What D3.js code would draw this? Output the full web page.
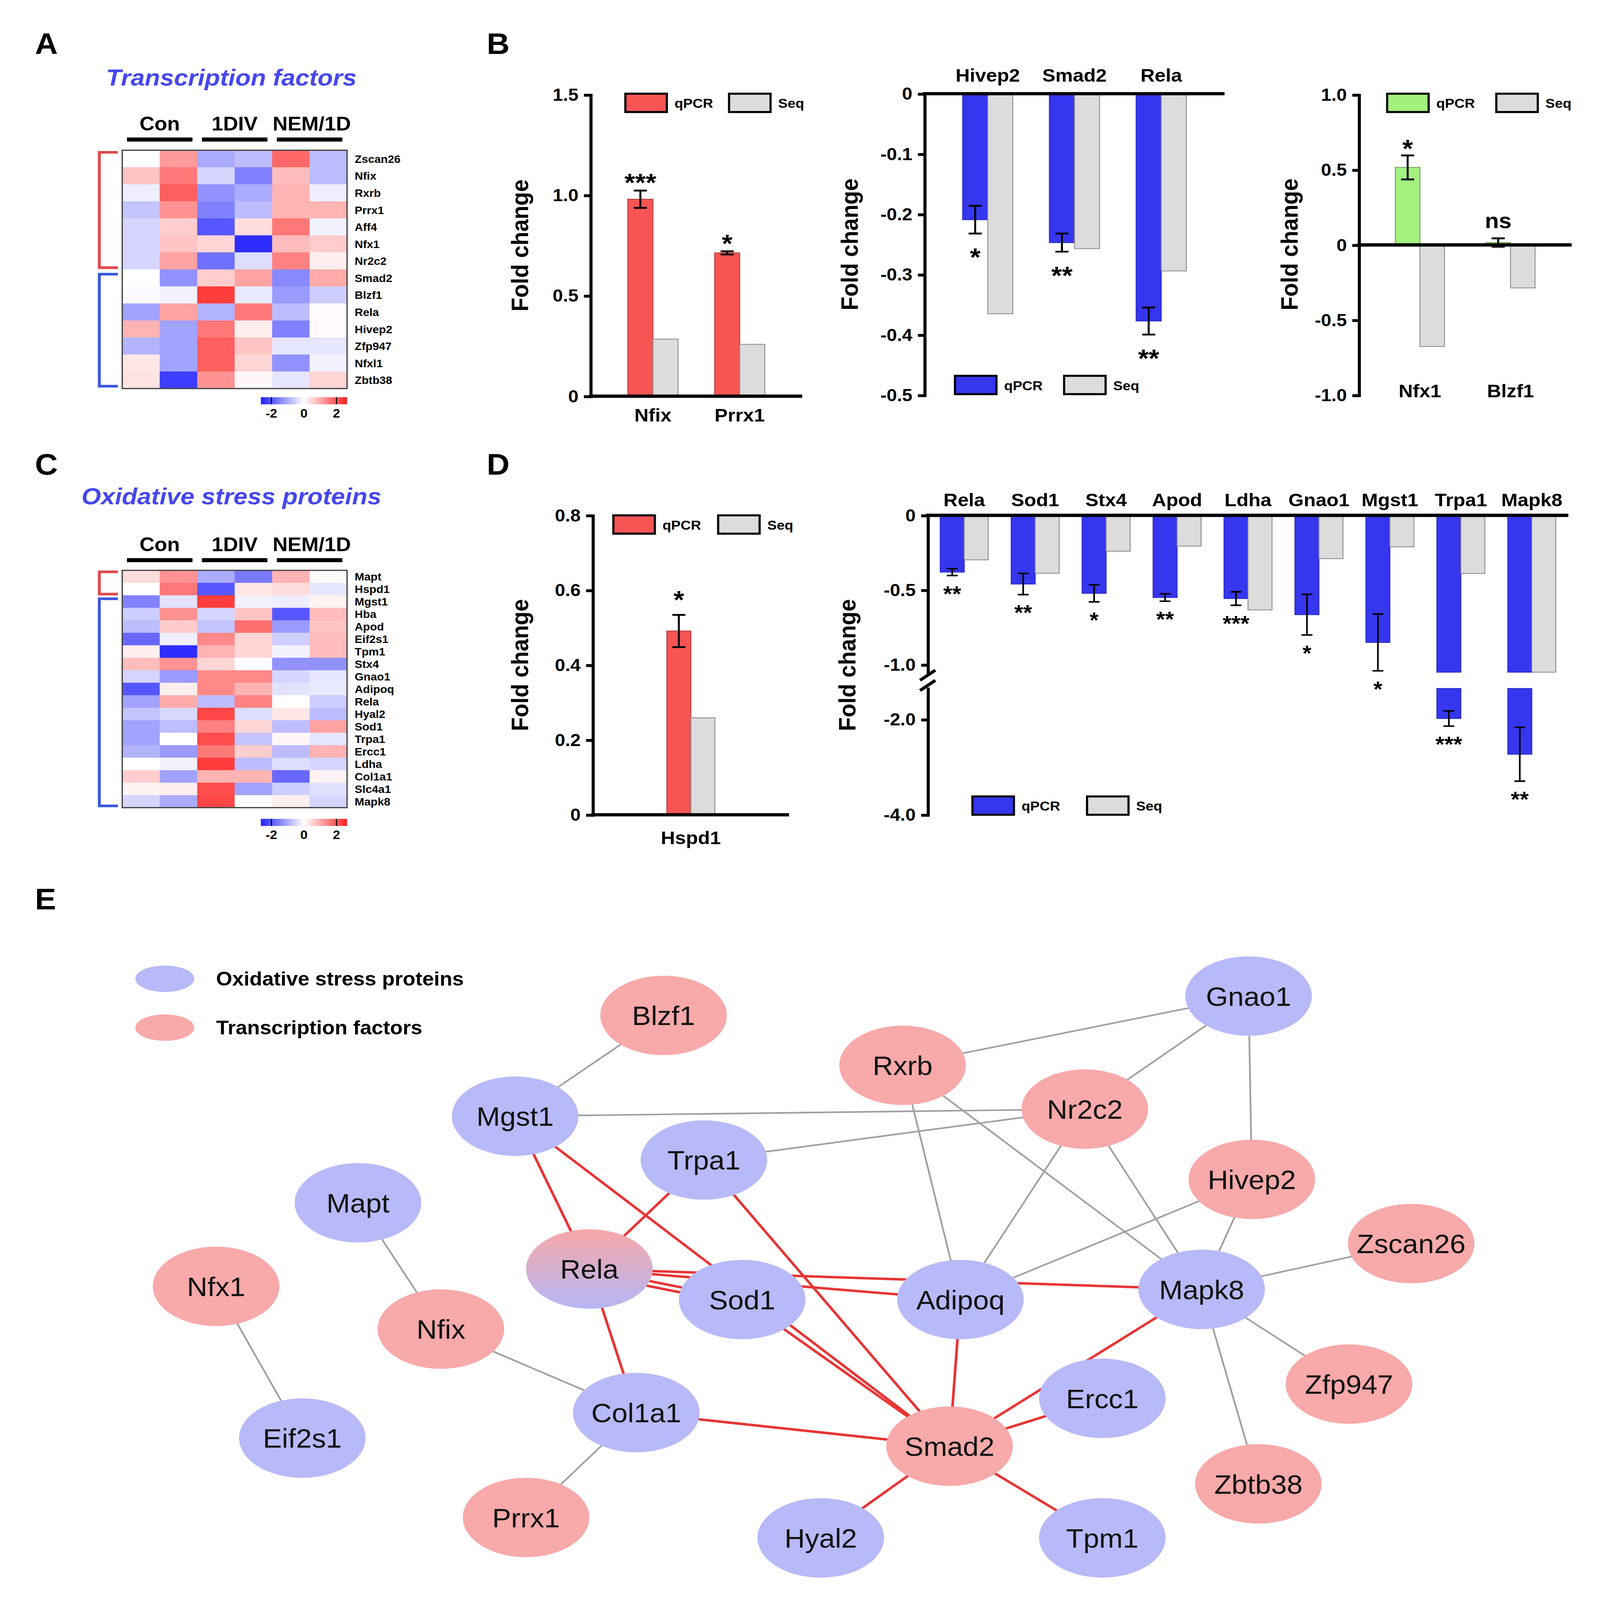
<!DOCTYPE html>
<html><head><meta charset="utf-8">
<script src="https://cdn.jsdelivr.net/npm/d3@7"></script>
<style>
html,body{margin:0;padding:0;background:#fff;width:100%;height:100%;overflow:hidden;}
svg{display:block;width:100vw;height:100vh;}
</style></head><body>
<svg id="fig" viewBox="0 0 1466 1571" preserveAspectRatio="none"></svg>
<script>
// ---------------- DATA ----------------
const heatGroups = ["Con", "1DIV", "NEM/1D"];
const heatTicks = [-2, 0, 2];

const tfGenes = ["Zscan26","Nfix","Rxrb","Prrx1","Aff4","Nfx1","Nr2c2","Smad2","Blzf1","Rela","Hivep2","Zfp947","Nfxl1","Zbtb38"];
const tfMatrix = [
  [0.0, 1.2, -1.0, -0.8, 1.8, -0.8],
  [0.7, 1.6, -0.5, -1.5, 0.8, -0.8],
  [-0.2, 1.9, -1.3, -1.0, 0.9, -0.2],
  [-0.7, 1.3, -1.5, -0.8, 0.9, 0.9],
  [-0.5, 0.6, -2.0, 0.4, 1.6, -0.15],
  [-0.5, 0.7, 0.5, -2.5, 0.8, 0.6],
  [-0.5, 1.1, -1.7, -0.4, 1.5, 0.2],
  [0.0, -1.3, 0.6, 1.1, -1.4, 1.0],
  [-0.05, -0.15, 2.3, -0.25, -1.2, -0.6],
  [-1.1, 1.1, -0.9, 1.6, -0.8, 0.05],
  [0.9, -1.1, 1.6, 0.2, -1.5, 0.05],
  [-0.9, -1.1, 1.9, 0.7, -0.3, -0.3],
  [0.3, -1.1, 1.9, 0.5, -1.3, -0.15],
  [0.35, -2.3, 1.3, 0.1, -0.3, 0.5]
];
const tfSplit = 7;

const osGenes = ["Mapt","Hspd1","Mgst1","Hba","Apod","Eif2s1","Tpm1","Stx4","Gnao1","Adipoq","Rela","Hyal2","Sod1","Trpa1","Ercc1","Ldha","Col1a1","Slc4a1","Mapk8"];
const osMatrix = [
  [0.4, 1.3, -1.0, -1.6, 0.9, 0.05],
  [0.0, 1.6, -2.0, 0.3, 0.4, -0.3],
  [-1.5, -0.35, 2.3, -0.15, -0.2, 0.15],
  [-0.6, 1.3, -0.5, 0.7, -2.0, 0.8],
  [-0.8, 0.6, -0.7, 1.7, -1.2, 0.7],
  [-1.8, -0.2, 1.4, 0.5, -0.6, 0.8],
  [0.2, -2.5, 0.9, 0.5, -0.15, 0.8],
  [0.8, 1.3, 0.5, 0.0, -1.3, -1.3],
  [-0.5, -1.2, 1.4, 1.4, -0.5, -0.3],
  [-2.0, 0.2, 1.4, 0.9, -0.35, -0.25],
  [-1.1, 1.0, -0.8, 1.5, 0.0, -0.6],
  [-0.7, -0.45, 2.2, -0.4, 0.3, -0.8],
  [-1.1, -0.8, 1.5, 0.5, -0.8, 1.1],
  [-1.1, 0.0, 2.1, -0.7, 0.1, -0.3],
  [-0.9, -1.2, 1.6, 0.6, -0.8, 0.9],
  [0.0, -0.15, 2.3, -0.8, -0.4, -0.5],
  [0.6, -1.1, 0.9, 0.9, -1.8, 0.15],
  [0.15, 0.2, 2.1, -1.1, -0.6, -0.35],
  [-0.5, -1.0, 2.2, 0.0, 0.2, -0.5]
];
const osSplit = 2;

// Panel B (left)
const bLeftCats = ["Nfix", "Prrx1"];
const bLeftQpcr = [0.98, 0.713];
const bLeftErr = [0.043, 0.008];
const bLeftSeq = [0.284, 0.258];
const bLeftSig = ["***", "*"];
const bLeftTicks = [0, 0.5, 1.0, 1.5];

// Panel B (middle)
const bMidCats = ["Hivep2", "Smad2", "Rela"];
const bMidQpcr = [-0.209, -0.247, -0.377];
const bMidErr = [0.023, 0.015, 0.0225];
const bMidSeq = [-0.365, -0.257, -0.294];
const bMidSig = ["*", "**", "**"];
const bMidTicks = [0, -0.1, -0.2, -0.3, -0.4, -0.5];

// Panel B (right)
const bRightCats = ["Nfx1", "Blzf1"];
const bRightQpcr = [0.516, 0.016];
const bRightErr = [0.08, 0.028];
const bRightSeq = [-0.676, -0.286];
const bRightSig = ["*", "ns"];
const bRightTicks = [1.0, 0.5, 0, -0.5, -1.0];

// Panel D (left)
const dLeftCats = ["Hspd1"];
const dLeftQpcr = [0.491];
const dLeftErr = [0.043];
const dLeftSeq = [0.259];
const dLeftSig = ["*"];
const dLeftTicks = [0, 0.2, 0.4, 0.6, 0.8];

// Panel D (right) - broken axis
const dRightCats = ["Rela","Sod1","Stx4","Apod","Ldha","Gnao1","Mgst1","Trpa1","Mapk8"];
const dRightQpcr = [-0.38, -0.46, -0.522, -0.55, -0.557, -0.665, -0.851, -1.98, -2.73];
const dRightErr = [0.023, 0.071, 0.057, 0.025, 0.045, 0.136, 0.19, 0.16, 0.565];
const dRightSeq = [-0.298, -0.388, -0.24, -0.206, -0.633, -0.29, -0.211, -0.389, -1.2];
const dRightSig = ["**","**","*","**","***","*","*","***","**"];
const dRightTicksUpper = [0, -0.5, -1.0];
const dRightTicksLower = [-2.0, -4.0];
const dRightBreak = [-1.05, -1.35];

// Panel E network (layout units relative to panel)
const netNames = ["Blzf1","Gnao1","Rxrb","Nr2c2","Mgst1","Trpa1","Hivep2","Mapt","Zscan26","Rela","Sod1","Adipoq","Mapk8","Nfx1","Nfix","Zfp947","Ercc1","Col1a1","Eif2s1","Smad2","Zbtb38","Prrx1","Hyal2","Tpm1"];
const netTypes = ["tf","os","tf","tf","os","os","tf","os","tf","mix","os","os","os","tf","tf","tf","os","os","os","tf","tf","tf","os","os"];
const netX = [508,1044,727,894,372,545,1047,228,1193,440,580,780,1001,98,304,1136,910,483,177,770,1053,382,652,910];
const netY = [67,48,116,159,166,209,228,251,291,316,346,346,336,333,375,429,443,457,482,490,527,560,580,580];
const grayEdges = [["Blzf1","Mgst1"],["Mgst1","Nr2c2"],["Trpa1","Nr2c2"],["Rxrb","Gnao1"],["Nr2c2","Gnao1"],["Gnao1","Hivep2"],["Rxrb","Adipoq"],["Rxrb","Mapk8"],["Nr2c2","Adipoq"],["Nr2c2","Mapk8"],["Hivep2","Adipoq"],["Hivep2","Mapk8"],["Mapk8","Zscan26"],["Mapk8","Zfp947"],["Mapk8","Zbtb38"],["Mapt","Nfix"],["Nfix","Col1a1"],["Col1a1","Prrx1"],["Nfx1","Eif2s1"]];
const redEdges = [["Mgst1","Rela"],["Mgst1","Smad2"],["Trpa1","Rela"],["Trpa1","Smad2"],["Rela","Sod1"],["Rela","Sod1"],["Rela","Adipoq"],["Rela","Mapk8"],["Rela","Col1a1"],["Sod1","Smad2"],["Col1a1","Smad2"],["Adipoq","Smad2"],["Mapk8","Smad2"],["Ercc1","Smad2"],["Smad2","Hyal2"],["Smad2","Tpm1"]];
const netLegend = ["Oxidative stress proteins", "Transcription factors"];

// ---------------- STYLE ----------------
const FONT = '"Liberation Sans", Arial, Helvetica, sans-serif';
const RED = "#f85454", BLUE = "#3636ef", GREEN = "#a3f17f", GRAY = "#dcdcdc";
const TITLE_BLUE = "#4646ee";

const svg = d3.select("#fig");
svg.append("rect").attr("width", 1466).attr("height", 1571).attr("fill", "#fff");
const defs = svg.append("defs");

[["A",32,53],["B",446,53],["C",32,466],["D",446,466],["E",32,893]].forEach(([t,x,y]) => {
  svg.append("text").attr("x", x).attr("y", y).text(t)
    .attr("font-family", FONT).attr("font-weight", "bold").attr("font-size", 29).attr("fill", "#000");
});

// ---------------- HEATMAPS ----------------
const heatColor = d3.scaleLinear().domain([-2.65, 0, 2.65]).range(["#2020ff", "#ffffff", "#ff2020"]);
const cbGrad = defs.append("linearGradient").attr("id", "cbgrad").attr("x1", "0").attr("x2", "1").attr("y1", "0").attr("y2", "0");
d3.range(0, 1.0001, 0.1).forEach(t => {
  cbGrad.append("stop").attr("offset", t).attr("stop-color", heatColor(-2.65 + 5.3 * t));
});

function heatmap(genes, matrix, split, cfg) {
  const g = svg.append("g");
  const xs = d3.scaleBand().domain(d3.range(6)).range([112, 318]);
  const ys = d3.scaleBand().domain(genes).range([cfg.top, cfg.bottom]);
  g.append("text").attr("x", 212).attr("y", cfg.titleY).attr("text-anchor", "middle")
    .attr("font-family", FONT).attr("font-weight", "bold").attr("font-style", "italic")
    .attr("font-size", 23).attr("fill", TITLE_BLUE).text(cfg.title);
  heatGroups.forEach((grp, i) => {
    const cx = (xs(2 * i) + xs(2 * i + 1) + xs.bandwidth()) / 2;
    g.append("text").attr("x", cx + (i === 2 ? 2 : 0)).attr("y", cfg.groupY).attr("text-anchor", "middle")
      .attr("font-family", FONT).attr("font-weight", "bold").attr("font-size", 19).text(grp);
    g.append("rect").attr("x", cx - 30).attr("y", cfg.groupY + 7).attr("width", 60).attr("height", 4).attr("fill", "#000");
  });
  matrix.forEach((row, r) => {
    row.forEach((v, c) => {
      g.append("rect").attr("x", xs(c)).attr("y", ys(genes[r])).attr("width", xs.bandwidth() + 0.5)
        .attr("height", ys.bandwidth() + 0.5).attr("fill", heatColor(v));
    });
  });
  g.append("rect").attr("x", 112).attr("y", cfg.top).attr("width", 206).attr("height", cfg.bottom - cfg.top)
    .attr("fill", "none").attr("stroke", "#444").attr("stroke-width", 1.2);
  genes.forEach(gn => {
    g.append("text").attr("x", 325).attr("y", ys(gn) + ys.bandwidth() / 2 + 4)
      .attr("font-family", FONT).attr("font-weight", "bold").attr("font-size", 10.5).text(gn);
  });
  const rh = ys.step();
  const brk = (y0, y1, col) => {
    g.append("path").attr("d", `M108,${y0}H91V${y1}H108`).attr("fill", "none")
      .attr("stroke", col).attr("stroke-width", 2.6);
  };
  brk(cfg.top + rh * 0.12, cfg.top + rh * (split - 0.1), "#e04a4a");
  brk(cfg.top + rh * (split + 0.28), cfg.top + rh * (genes.length - 0.14), "#3a55dd");
  const cx = d3.scaleLinear().domain([-2.65, 2.65]).range([239, 318]);
  g.append("rect").attr("x", 239).attr("y", cfg.cbY).attr("width", 79).attr("height", 7).attr("fill", "url(#cbgrad)");
  heatTicks.forEach(t => {
    if (t !== 0) g.append("line").attr("x1", cx(t)).attr("x2", cx(t)).attr("y1", cfg.cbY).attr("y2", cfg.cbY + 7)
      .attr("stroke", "#000").attr("stroke-width", 1);
    g.append("text").attr("x", cx(t)).attr("y", cfg.cbY + 20).attr("text-anchor", "middle")
      .attr("font-family", FONT).attr("font-weight", "bold").attr("font-size", 12).text(t);
  });
}
heatmap(tfGenes, tfMatrix, tfSplit, {title: "Transcription factors", titleY: 84, groupY: 128, top: 147.5, bottom: 381.5, cbY: 390});
heatmap(osGenes, osMatrix, osSplit, {title: "Oxidative stress proteins", titleY: 495, groupY: 541, top: 560, bottom: 793, cbY: 804});

// ---------------- BAR CHART HELPERS ----------------
function yAxis(scale, ticks, x, fmt, fontSize) {
  const g = svg.append("g").attr("transform", `translate(${x},0)`);
  g.call(d3.axisLeft(scale).tickValues(ticks).tickFormat(fmt).tickSize(6).tickSizeOuter(0));
  g.select(".domain").attr("stroke", "#000").attr("stroke-width", 2.8).attr("stroke-linecap", "square");
  g.selectAll(".tick line").attr("stroke", "#000").attr("stroke-width", 2.8);
  g.selectAll(".tick text").attr("font-family", FONT).attr("font-weight", "bold")
    .attr("font-size", fontSize).attr("fill", "#000").attr("x", -11);
  return g;
}
function hLine(x0, x1, y) {
  svg.append("line").attr("x1", x0).attr("x2", x1).attr("y1", y).attr("y2", y)
    .attr("stroke", "#000").attr("stroke-width", 3.2);
}
function yTitle(x, y) {
  svg.append("text").attr("transform", `translate(${x},${y}) rotate(-90)`).attr("text-anchor", "middle")
    .attr("font-family", FONT).attr("font-weight", "bold").attr("font-size", 22).text("Fold change");
}
function legend(x, y, color, gap, fontSize) {
  const items = [["qPCR", color], ["Seq", GRAY]];
  items.forEach(([lab, col], i) => {
    const lx = x + i * gap;
    svg.append("rect").attr("x", lx).attr("y", y).attr("width", 38).attr("height", 18)
      .attr("fill", col).attr("stroke", "#000").attr("stroke-width", 2);
    svg.append("text").attr("x", lx + 45).attr("y", y + 14).attr("font-family", FONT)
      .attr("font-weight", "bold").attr("font-size", fontSize || 13).text(lab);
  });
}
const fmt1 = d => d === 0 ? "0" : d.toFixed(1);

function barChart(c) {
  const xs = d3.scalePoint().domain(c.cats).range([c.x0, c.x1]).padding(c.pad);
  const ys = d3.scaleLinear().domain(c.domain).range(c.range);
  const bw = c.bw;
  c.cats.forEach((cat, i) => {
    const cx = xs(cat);
    const q = c.qpcr[i], s = c.seq[i], e = c.err[i];
    svg.append("rect").attr("x", cx - bw).attr("width", bw)
      .attr("y", Math.min(ys(0), ys(q))).attr("height", Math.abs(ys(q) - ys(0)))
      .attr("fill", c.color).attr("stroke", c.stroke).attr("stroke-width", 0.8);
    svg.append("rect").attr("x", cx).attr("width", bw)
      .attr("y", Math.min(ys(0), ys(s))).attr("height", Math.abs(ys(s) - ys(0)))
      .attr("fill", GRAY).attr("stroke", "#8a8a8a").attr("stroke-width", 0.8);
    const ex = cx - bw / 2;
    const eHi = ys(q + e), eLo = ys(q - e);
    svg.append("path").attr("d", `M${ex},${eHi}V${eLo}M${ex - 6},${eHi}H${ex + 6}M${ex - 6},${eLo}H${ex + 6}`)
      .attr("stroke", "#000").attr("stroke-width", 1.8).attr("fill", "none");
    const sig = c.sig[i];
    const isNs = sig === "ns";
    const sy = q >= 0 ? ys(q + e) + (isNs ? c.nsOff : c.sigOffUp) : ys(q - e) + c.sigOffDown;
    svg.append("text").attr("x", ex).attr("y", sy).attr("text-anchor", "middle")
      .attr("font-family", FONT).attr("font-weight", "bold").attr("font-size", isNs ? 21 : 25).text(sig);
    svg.append("text").attr("x", cx).attr("y", c.labelY).attr("text-anchor", "middle")
      .attr("font-family", FONT).attr("font-weight", "bold").attr("font-size", 18).text(cat);
  });
  hLine(c.x0 - 1.4, c.x1, ys(0));
  yAxis(ys, c.ticks, c.x0, fmt1, 17);
}

barChart({cats: bLeftCats, qpcr: bLeftQpcr, err: bLeftErr, seq: bLeftSeq, sig: bLeftSig, ticks: bLeftTicks,
  x0: 541, x1: 735, pad: 0.72, domain: [0, 1.5], range: [389, 93], bw: 23, color: RED, stroke: "#b03a3a",
  sigOffUp: 1, sigOffDown: 31, nsOff: -10, labelY: 414});
legend(573, 92, RED, 95);
yTitle(484, 241);

barChart({cats: bMidCats, qpcr: bMidQpcr, err: bMidErr, seq: bMidSeq, sig: bMidSig, ticks: bMidTicks,
  x0: 847, x1: 1122, pad: 0.73, domain: [-0.5, 0], range: [388, 92], bw: 23, color: BLUE, stroke: "#2a2ac0",
  sigOffUp: 1, sigOffDown: 32, nsOff: -10, labelY: 80});
legend(875, 369, BLUE, 100);
yTitle(786, 240);

barChart({cats: bRightCats, qpcr: bRightQpcr, err: bRightErr, seq: bRightSeq, sig: bRightSig, ticks: bRightTicks,
  x0: 1245, x1: 1440, pad: 0.675, domain: [-1, 1], range: [388, 93], bw: 22.5, color: GREEN, stroke: "#6aa050",
  sigOffUp: 2, sigOffDown: 31, nsOff: -10, labelY: 390});
legend(1271, 92, GREEN, 100);
yTitle(1189, 240);

barChart({cats: dLeftCats, qpcr: dLeftQpcr, err: dLeftErr, seq: dLeftSeq, sig: dLeftSig, ticks: dLeftTicks,
  x0: 543, x1: 723, pad: 0.5, domain: [0, 0.8], range: [800, 506], bw: 22, color: RED, stroke: "#b03a3a",
  sigOffUp: -6, sigOffDown: 31, nsOff: -10, labelY: 829});
legend(562, 506, RED, 96);
yTitle(484, 653);

(function () {
  const x0 = 850, x1 = 1437;
  const xs = d3.scalePoint().domain(dRightCats).range([x0, x1]).padding(0.515);
  const yUp = d3.scaleLinear().domain([0, dRightBreak[0]]).range([506, 660]);
  const yLow = d3.scaleLinear().domain([dRightBreak[1], -4]).range([676, 800]);
  const yb = v => v >= dRightBreak[0] ? yUp(v) : yLow(v);
  const bw = 22;
  function segBar(x, v, fill, stroke) {
    const vUp = Math.max(v, dRightBreak[0]);
    svg.append("rect").attr("x", x).attr("width", bw).attr("y", yUp(0)).attr("height", yUp(vUp) - yUp(0))
      .attr("fill", fill).attr("stroke", stroke).attr("stroke-width", 0.8);
    if (v < dRightBreak[1]) {
      svg.append("rect").attr("x", x).attr("width", bw).attr("y", yLow(dRightBreak[1])).attr("height", yLow(v) - yLow(dRightBreak[1]))
        .attr("fill", fill).attr("stroke", stroke).attr("stroke-width", 0.8);
    }
  }
  dRightCats.forEach((cat, i) => {
    const cx = xs(cat);
    const q = dRightQpcr[i], s = dRightSeq[i], e = dRightErr[i];
    segBar(cx - bw, q, BLUE, "#2a2ac0");
    segBar(cx, s, GRAY, "#8a8a8a");
    const ex = cx - bw / 2;
    const eHi = yb(q + e), eLo = yb(q - e);
    svg.append("path").attr("d", `M${ex},${eHi}V${eLo}M${ex - 5},${eHi}H${ex + 5}M${ex - 5},${eLo}H${ex + 5}`)
      .attr("stroke", "#000").attr("stroke-width", 1.5).attr("fill", "none");
    svg.append("text").attr("x", ex).attr("y", eLo + 25).attr("text-anchor", "middle")
      .attr("font-family", FONT).attr("font-weight", "bold").attr("font-size", 21).text(dRightSig[i]);
    svg.append("text").attr("x", cx).attr("y", 497).attr("text-anchor", "middle")
      .attr("font-family", FONT).attr("font-weight", "bold").attr("font-size", 18).text(cat);
  });
  hLine(x0 - 1.4, x1, yUp(0));
  yAxis(yUp, dRightTicksUpper, x0, fmt1, 17);
  yAxis(yLow, dRightTicksLower, x0, fmt1, 17);
  // break marks "//"
  const b1 = yUp(dRightBreak[0]) + 3, b2 = yLow(dRightBreak[1]) - 3;
  svg.append("path").attr("d", `M${x0 - 7},${b1 + 5}L${x0 + 7},${b1 - 5}M${x0 - 7},${b2 + 5}L${x0 + 7},${b2 - 5}`)
    .attr("stroke", "#000").attr("stroke-width", 3);
  legend(891, 782, BLUE, 105, 13);
  yTitle(784, 653);
})();

// ---------------- NETWORK ----------------
(function () {
  const nx = d3.scaleLinear().domain([0, 1300]).range([100, 1400]);
  const ny = d3.scaleLinear().domain([0, 630]).range([930, 1560]);
  const pos = {};
  netNames.forEach((n, i) => pos[n] = [nx(netX[i]), ny(netY[i])]);
  const relaGrad = defs.append("linearGradient").attr("id", "relagrad").attr("x1", 0).attr("x2", 0).attr("y1", 0).attr("y2", 1);
  relaGrad.append("stop").attr("offset", 0).attr("stop-color", "#f7a7a7");
  relaGrad.append("stop").attr("offset", 1).attr("stop-color", "#b5b7f7");
  const fills = {tf: "#f8a9a9", os: "#b8b9f8", mix: "url(#relagrad)"};
  const eg = svg.append("g");
  grayEdges.forEach(([a, b]) => {
    eg.append("line").attr("x1", pos[a][0]).attr("y1", pos[a][1]).attr("x2", pos[b][0]).attr("y2", pos[b][1])
      .attr("stroke", "#a0a0a0").attr("stroke-width", 1.6);
  });
  const seen = {};
  redEdges.forEach(([a, b]) => {
    const key = a + "-" + b;
    seen[key] = (seen[key] || 0) + 1;
    const k = seen[key] - 1;
    const dx = pos[b][0] - pos[a][0], dy = pos[b][1] - pos[a][1];
    const L = Math.hypot(dx, dy);
    const off = k * 5;
    const ox = -dy / L * off, oy = dx / L * off;
    eg.append("line").attr("x1", pos[a][0] + ox).attr("y1", pos[a][1] + oy).attr("x2", pos[b][0] + ox).attr("y2", pos[b][1] + oy)
      .attr("stroke", "#e83434").attr("stroke-width", 2.4);
  });
  const ng = svg.append("g");
  netNames.forEach((n, i) => {
    ng.append("ellipse").attr("cx", pos[n][0]).attr("cy", pos[n][1]).attr("rx", 58).attr("ry", 39)
      .attr("fill", fills[netTypes[i]]);
    ng.append("text").attr("x", pos[n][0]).attr("y", pos[n][1] + 9.5).attr("text-anchor", "middle")
      .attr("font-family", FONT).attr("font-size", 26).attr("fill", "#111").text(n);
  });
  netLegend.forEach((lab, i) => {
    const y = 961 + i * 48;
    svg.append("ellipse").attr("cx", 151).attr("cy", y).attr("rx", 27).attr("ry", 13)
      .attr("fill", i === 0 ? fills.os : fills.tf);
    svg.append("text").attr("x", 198).attr("y", y + 6.5).attr("font-family", FONT).attr("font-weight", "bold")
      .attr("font-size", 19).text(lab);
  });
})();
</script>
</body></html>
